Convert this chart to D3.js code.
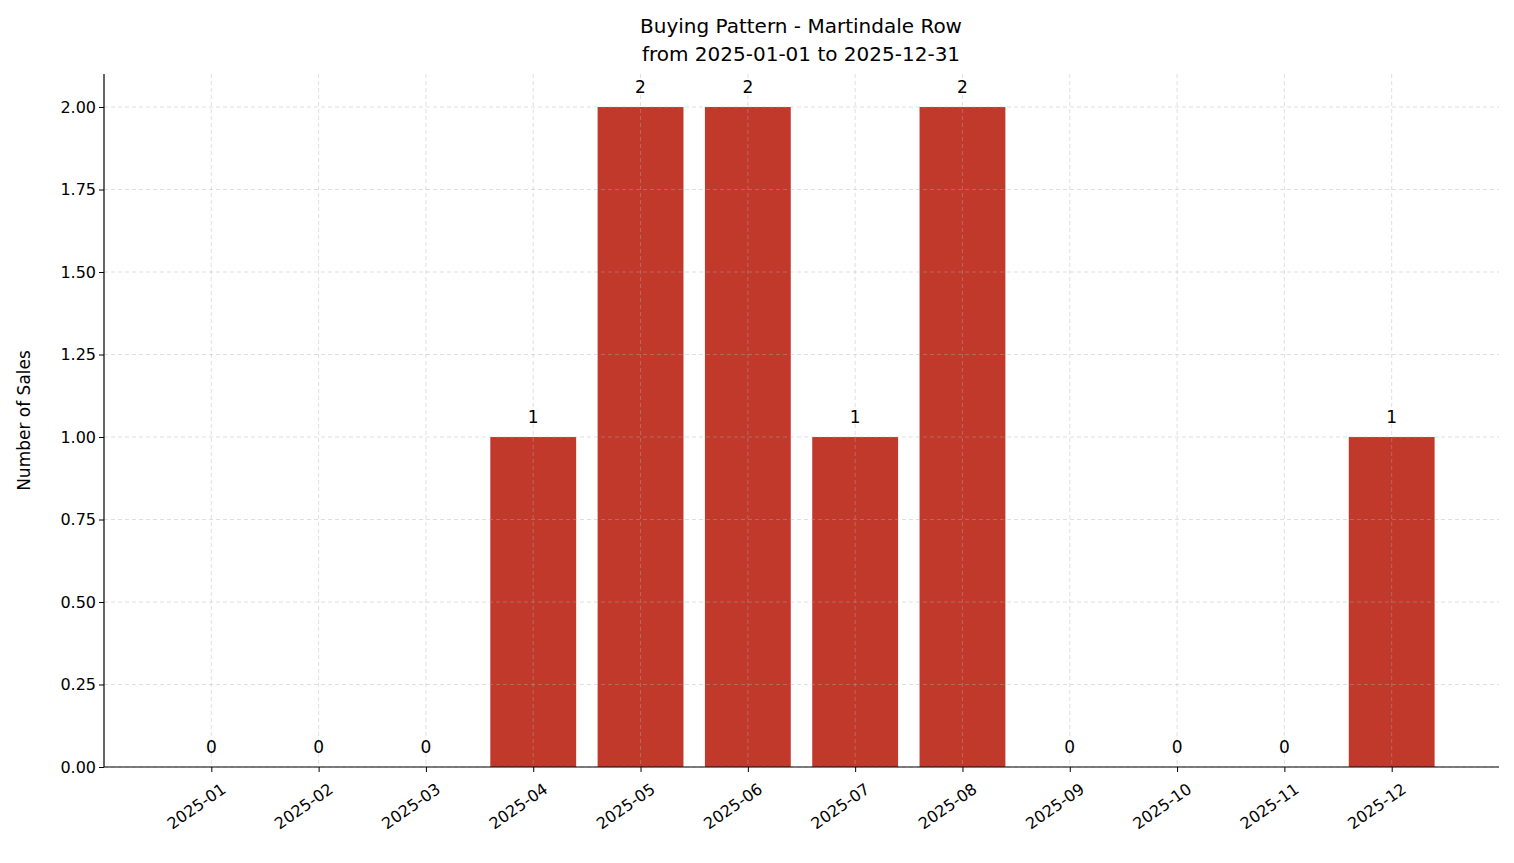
<!DOCTYPE html>
<html lang="en">
<meta charset="UTF-8">
<title>Buying Pattern</title>
<style>
  body { margin: 0; background: #fff; }
  text { font-family: "DejaVu Sans", sans-serif; fill: #000; }
</style>
<body>
<svg id="chart" width="1514" height="863"></svg>
<script src="https://d3js.org/d3.v7.min.js"></script>
<script>
  var months = ["2025-01","2025-02","2025-03","2025-04","2025-05","2025-06",
                "2025-07","2025-08","2025-09","2025-10","2025-11","2025-12"];
  var sales = [0, 0, 0, 1, 2, 2, 1, 2, 0, 0, 0, 1];
  var yTicks = [0, 0.25, 0.5, 0.75, 1, 1.25, 1.5, 1.75, 2];

  var svg = d3.select("#chart");
  var mLeft = 104, mRight = 1499, mTop = 74, mBottom = 767;

  var x = d3.scaleLinear().domain([-1, months.length]).range([mLeft, mRight]);
  var y = d3.scaleLinear().domain([0, 2.1]).range([mBottom, mTop]);
  var bw = (x(1) - x(0)) * 0.8;

  // bars
  svg.append("g").selectAll("rect").data(sales).join("rect")
    .attr("x", (d, i) => x(i) - bw / 2)
    .attr("width", bw)
    .attr("y", d => y(d))
    .attr("height", d => mBottom - y(d))
    .attr("fill", "#c0392b");

  // grid (drawn over bars, semi-transparent)
  svg.append("g").selectAll("line").data(yTicks).join("line")
    .attr("x1", mLeft).attr("x2", mRight)
    .attr("y1", d => y(d)).attr("y2", d => y(d))
    .attr("stroke", "#b0b0b0").attr("stroke-opacity", 0.5)
    .attr("stroke-dasharray", "4,3").attr("stroke-width", 0.8);
  svg.append("g").selectAll("line").data(months).join("line")
    .attr("x1", (d, i) => x(i)).attr("x2", (d, i) => x(i))
    .attr("y1", mTop).attr("y2", mBottom)
    .attr("stroke", "#b0b0b0").attr("stroke-opacity", 0.5)
    .attr("stroke-dasharray", "4,3").attr("stroke-width", 0.8);

  // value labels
  svg.append("g").selectAll("text").data(sales).join("text")
    .attr("x", (d, i) => x(i))
    .attr("y", d => y(d) - 14)
    .attr("text-anchor", "middle")
    .style("font-size", "17px")
    .text(d => d);

  // axes
  var yAxis = d3.axisLeft(y).tickValues(yTicks).tickFormat(d3.format(".2f")).tickSize(5);
  var gy = svg.append("g").attr("transform", `translate(${mLeft},0)`).call(yAxis);
  gy.select(".domain").attr("d", `M0,${mTop}V${mBottom}`);
  gy.selectAll("text").style("font-size", "16px");

  var xAxis = d3.axisBottom(x).tickValues(d3.range(months.length))
    .tickFormat(i => months[i]).tickSize(5);
  var gx = svg.append("g").attr("transform", `translate(0,${mBottom})`).call(xAxis);
  gx.select(".domain").attr("d", `M${mLeft},0H${mRight}`);
  gx.selectAll("text")
    .style("font-size", "16px")
    .attr("text-anchor", "end")
    .attr("dy", "0.35em")
    .attr("y", 0)
    .attr("transform", "translate(12,20) rotate(-35)");

  svg.selectAll(".domain").attr("stroke", "#000").attr("stroke-width", 1.2);

  // titles
  svg.append("text").attr("x", 801).attr("y", 33).attr("text-anchor", "middle")
    .style("font-size", "20px").text("Buying Pattern - Martindale Row");
  svg.append("text").attr("x", 801).attr("y", 61).attr("text-anchor", "middle")
    .style("font-size", "20px").text("from 2025-01-01 to 2025-12-31");
  svg.append("text").attr("transform", `translate(30,${(mTop + mBottom) / 2}) rotate(-90)`)
    .attr("text-anchor", "middle").style("font-size", "17px").text("Number of Sales");
</script>
</body>
</html>
